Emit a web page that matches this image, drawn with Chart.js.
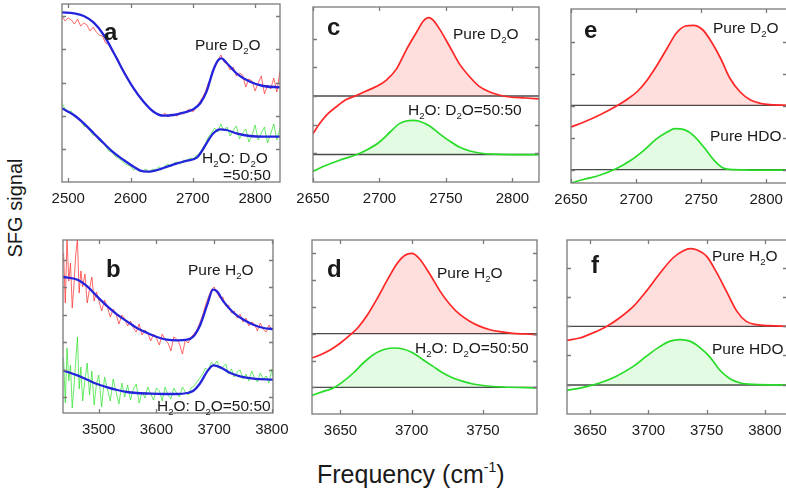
<!DOCTYPE html>
<html>
<head>
<meta charset="utf-8">
<script src="https://cdn.jsdelivr.net/npm/chart.js@4.4.1/dist/chart.umd.min.js"></script>
<style>
  html,body{margin:0;padding:0;background:#fff;}
  body{width:786px;height:497px;overflow:hidden;position:relative;font-family:"Liberation Sans",Arial,Helvetica,sans-serif;color:#1a1a1a;}
  #ylab{position:absolute;left:-45px;top:196px;width:120px;height:24px;line-height:24px;text-align:center;font-size:20px;transform:rotate(-90deg);white-space:nowrap;}
  #xlab{position:absolute;left:317px;top:462px;height:25px;line-height:25px;font-size:25px;white-space:nowrap;}
  #xlab span{font-size:14px;position:relative;top:-11px;}
</style>
</head>
<body>
<div id="ylab">SFG signal</div>
<div id="xlab">Frequency (cm<span>-1</span>)</div>
<script>
// ---------- Panel a (D2O region, raw spectra + fits) ----------
const aX = [2490,2495,2500,2505,2510,2515,2520,2525,2530,2535,2540,2545,2550,2555,2560,2565,2570,2575,2580,2585,2590,2595,2600,2605,2610,2615,2620,2625,2630,2635,2640,2645,2650,2655,2660,2665,2670,2675,2680,2685,2690,2695,2700,2705,2710,2715,2720,2725,2730,2735,2740,2745,2750,2755,2760,2765,2770,2775,2780,2785,2790,2795,2800,2805,2810,2815,2820,2825,2830,2835,2840];
const aRed = [16.6,16.1,16.4,16.2,15.8,16.3,15.6,15.9,15.7,15.1,15.5,15.0,14.7,14.6,13.9,13.8,13.1,12.7,12.3,11.4,11.0,10.5,9.9,9.4,8.9,8.6,8.1,7.8,7.4,7.2,6.9,6.8,6.6,6.9,6.5,6.8,6.7,6.6,7.0,6.8,7.1,7.3,7.0,7.4,7.9,8.4,9.0,9.9,10.6,11.6,12.1,12.7,12.0,11.8,11.2,11.5,10.6,10.9,10.7,9.5,10.3,10.1,9.1,9.9,10.6,8.8,9.7,9.3,10.4,9.0,11.1];
const aGreen = [7.9,7.3,7.0,7.1,6.5,6.4,6.1,5.6,5.5,5.1,4.7,4.6,4.1,3.9,3.6,3.1,3.0,2.6,2.4,2.2,1.9,1.7,1.6,1.2,1.4,1.0,1.1,1.3,0.9,1.3,1.2,1.5,1.3,1.6,1.8,1.5,1.9,2.0,1.8,2.2,2.1,2.4,2.3,2.6,2.8,3.3,3.8,4.5,4.9,5.4,5.0,5.8,5.1,5.5,4.6,5.2,5.6,4.3,4.9,5.3,4.0,4.6,5.7,4.2,4.9,5.5,3.9,4.8,5.8,4.2,5.4];
const aFitX1 = [2490,2509,2525,2541,2557,2573,2589,2605,2621,2637,2653,2669,2685,2701,2712,2722,2733,2741,2746,2754,2770,2792,2813,2840];
const aFit1  = [16.97,16.87,16.6,15.93,14.7,12.93,11.03,9.37,8.03,7.03,6.63,6.7,6.93,7.27,7.87,9.03,11.2,12.2,12.37,11.93,10.87,10.03,9.6,9.47];
const aFitX2 = [2490,2509,2525,2541,2557,2573,2589,2605,2616,2627,2643,2659,2675,2691,2707,2714,2722,2733,2744,2754,2770,2792,2813,2840];
const aFit2  = [7.37,6.7,5.87,4.87,3.87,2.93,2.2,1.53,1.13,1.03,1.2,1.53,1.87,2.13,2.47,3.03,3.87,4.87,5.27,5.2,4.87,4.6,4.53,4.53];
const aTicks = [2500,2600,2700,2800];
const aYTicks = [3.27,6.6,9.93,13.27,16.6];

// ---------- Panel b (H2O region, raw spectra + fits) ----------
const bX = [3439,3442,3445,3448,3451,3454,3457,3460,3463,3466,3469,3472,3476,3480,3484,3488,3492,3496,3500,
  3505,3510,3515,3520,3525,3530,3535,3540,3545,3550,3555,3560,3565,3570,3575,3580,3585,3590,3595,3600,
  3605,3610,3615,3620,3625,3630,3635,3640,3645,3650,3655,3660,3665,3670,3675,3680,3685,3690,3695,3700,
  3705,3710,3715,3720,3725,3730,3735,3740,3745,3750,3755,3760,3765,3770,3775,3780,3785,3790,3795,3800,3802];
const bRed = [16.0,11.0,17.5,13.2,15.0,10.5,12.8,15.8,17.4,12.0,14.2,12.6,13.9,11.0,12.4,13.6,11.2,12.1,11.3,
  10.2,11.3,10.6,9.6,10.4,9.9,8.9,9.8,9.4,8.7,9.2,8.5,8.1,8.9,7.8,8.3,8.0,7.2,7.9,7.5,
  6.8,7.9,7.3,7.0,6.2,7.6,7.4,6.9,5.9,7.3,7.0,7.6,7.9,8.3,9.0,9.8,10.8,11.6,12.3,12.6,
  12.0,11.5,11.6,10.7,10.8,10.0,10.2,9.5,9.9,9.1,9.5,8.7,9.1,8.9,8.2,9.0,8.4,8.1,8.8,8.3,8.5];
const bGreen = [5.5,1.0,6.5,3.2,4.8,0.5,2.6,5.2,7.6,2.4,4.6,1.2,3.3,5.0,1.8,4.2,0.8,2.9,3.8,
  0.6,3.6,2.4,1.2,3.4,2.1,0.9,3.0,1.6,2.8,1.3,2.4,2.9,1.0,2.1,1.5,2.6,1.9,1.3,2.5,
  2.2,1.2,2.6,1.8,1.4,2.5,2.0,1.6,2.6,2.1,1.8,2.5,2.7,3.1,3.5,3.9,4.5,4.3,5.1,4.8,
  5.2,4.4,4.6,4.9,3.9,4.4,3.6,4.1,4.3,3.4,3.9,3.2,4.2,3.5,3.1,4.0,3.4,3.7,3.0,4.4,3.6];
const bFitX1 = [3438,3463,3480,3497,3515,3532,3549,3566,3584,3601,3618,3636,3653,3664,3676,3688,3698,3705,3716,3734,3751,3768,3786,3802];
const bFit1  = [13.6,13.33,12.66,11.66,10.66,9.83,9.16,8.5,8.0,7.6,7.33,7.26,7.33,7.66,8.83,10.83,12.33,12.16,11.16,10.0,9.33,8.83,8.5,8.4];
const bFitX2 = [3438,3463,3480,3497,3515,3532,3549,3566,3590,3613,3636,3653,3664,3676,3688,3699,3711,3728,3745,3768,3802];
const bFit2  = [4.26,3.76,3.33,2.9,2.56,2.3,2.1,2.0,1.93,1.9,1.9,2.0,2.23,3.0,4.16,4.76,4.56,4.0,3.66,3.43,3.33];
const bTicks = [3500,3600,3700,3800];
const bYTicks = [1.56,4.33,7.1,9.83,12.6,15.33];

// ---------- Panel c (Im chi, D2O vs 50:50) ----------
const cX1 = [2650,2655,2660,2668,2675,2683,2690,2698,2705,2713,2720,2728,2733,2737,2740,2745,2753,2760,2768,2775,2783,2790,2798,2810,2820];
const cRed = [4.84,5.84,6.67,7.57,8.24,8.67,9.1,9.57,10.17,11.34,13.17,15.0,16.1,16.44,16.24,15.34,13.5,11.84,10.5,9.57,9.0,8.7,8.5,8.4,8.3];
const cX2 = [2650,2660,2670,2683,2690,2700,2708,2715,2720,2725,2730,2738,2745,2753,2760,2768,2775,2785,2798,2820];
const cGreen = [1.07,1.67,2.17,2.75,3.17,4.0,5.0,5.84,6.1,6.17,6.07,5.57,4.84,4.07,3.5,3.1,2.9,2.78,2.74,2.74];
const cBase = [8.6, 2.75];
const cTicks = [2650,2700,2750,2800];
const cYTicks = [2.87,5.74,8.6,11.48,14.35];

// ---------- Panel d (Im chi, H2O vs 50:50) ----------
const dX1 = [3630,3636,3643,3650,3657,3662,3669,3676,3683,3690,3695,3700,3705,3713,3720,3727,3734,3741,3748,3755,3762,3771,3781,3788];
const dRed = [5.6,5.93,6.43,7.1,7.93,8.6,9.93,11.6,13.43,15.1,15.85,16.06,15.6,13.93,12.26,10.93,9.93,9.26,8.76,8.43,8.23,8.06,8.0,7.93];
const dX2 = [3630,3638,3645,3652,3659,3666,3673,3680,3687,3694,3701,3708,3715,3722,3729,3736,3743,3753,3764,3788];
const dGreen = [1.86,2.26,2.6,3.26,4.1,5.1,5.93,6.43,6.6,6.5,6.1,5.43,4.76,4.1,3.6,3.26,3.0,2.8,2.7,2.6];
const dBase = [8.03, 2.66];
const dTicks = [3650,3700,3750];
const dYTicks = [2.66,5.34,8.03,10.7,13.4,16.1];

// ---------- Panel e (Im chi, D2O vs HDO) ----------
const eX1 = [2650,2660,2672,2685,2693,2701,2708,2716,2724,2731,2738,2744,2751,2757,2765,2772,2780,2788,2796,2803,2816];
const eRed = [5.6,6.1,6.8,7.7,8.35,9.15,10.2,11.75,13.5,15.0,15.7,15.77,15.35,14.3,12.45,10.5,9.1,8.3,7.95,7.83,7.77];
const eX2 = [2650,2660,2672,2685,2696,2706,2716,2724,2730,2737,2744,2752,2760,2767,2775,2816];
const eGreen = [0.0,0.37,0.77,1.44,2.27,3.27,4.44,5.1,5.44,5.34,4.77,3.6,2.27,1.5,1.34,1.28];
const eBase = [7.77, 1.34];
const eTicks = [2650,2700,2750,2800];
const eYTicks = [1.34,4.54,7.74,10.94,14.14];

// ---------- Panel f (Im chi, H2O vs HDO) ----------
const fX1 = [3630,3641,3652,3664,3675,3687,3698,3710,3721,3730,3736,3741,3750,3758,3767,3776,3784,3793,3804,3819];
const fRed = [7.36,7.6,8.1,8.76,9.6,10.76,12.26,14.1,15.6,16.33,16.53,16.43,15.76,14.26,12.26,10.26,9.26,8.93,8.83,8.76];
const fX2 = [3630,3644,3658,3672,3687,3698,3710,3718,3727,3736,3744,3753,3761,3770,3779,3790,3819];
const fGreen = [2.36,2.66,3.1,3.76,4.76,5.76,6.76,7.26,7.43,7.26,6.66,5.66,4.43,3.53,3.1,2.96,2.9];
const fBase = [8.76, 2.9];
const fTicks = [3650,3700,3750,3800];
const fYTicks = [2.93,5.86,8.76,11.7,14.6];

// ---------- styling / helpers ----------
const FONT = '"Liberation Sans", Arial, Helvetica, sans-serif';
const RED_N = 'rgba(255,45,45,0.8)';
const GREEN_N = 'rgba(45,225,45,0.8)';
const BLUE = '#2424dc';
const RED = '#ff2626';
const GREEN = '#27dc27';
const RED_FILL = 'rgba(255,0,0,0.13)';
const GREEN_FILL = 'rgba(0,205,0,0.11)';
const BASE_COL = '#4a4a4a';
const FRAME_COL = '#7a7a7a';

function pts(xs, ys){ const n = Math.min(xs.length, ys.length); const o=[]; for(let i=0;i<n;i++) o.push({x:xs[i], y:ys[i]}); return o; }
function noisy(xs, ys, col){ return {data:pts(xs,ys), borderColor:col, borderWidth:0.9, pointRadius:0, tension:0, fill:false}; }
function fit(xs, ys){ return {data:pts(xs,ys), borderColor:BLUE, borderWidth:2.3, pointRadius:0, cubicInterpolationMode:'monotone', fill:false}; }
function peak(xs, ys, col, fcol, base){ return {data:pts(xs,ys), borderColor:col, borderWidth:1.7, pointRadius:0, cubicInterpolationMode:'monotone', fill:{target:{value:base}, above:fcol, below:'rgba(0,0,0,0)'}}; }
function hline(v, xr){ return {data:[{x:xr[0], y:v},{x:xr[1], y:v}], borderColor:BASE_COL, borderWidth:1.3, pointRadius:0, fill:false}; }

function drawRich(ctx, s, x, y, size, bold){
  let cx = x;
  for (let i=0;i<s.length;i++){
    let ch = s[i], sz = size, dy = 0;
    if (ch === '_'){ ch = s[++i]; sz = size*0.62; dy = size*0.27; }
    ctx.font = (bold ? 'bold ' : '') + sz + 'px ' + FONT;
    ctx.fillText(ch, cx, y + dy);
    cx += ctx.measureText(ch).width;
  }
}

const PANELS = [
  {box:[62,4,280,182], xr:[2490,2840], xt:aTicks, yt:aYTicks,
   ds:[fit(aFitX1,aFit1), fit(aFitX2,aFit2), noisy(aX,aRed,RED_N), noisy(aX,aGreen,GREEN_N)],
   texts:[{s:'a',x:104,y:39.5,b:1},{s:'Pure D_2O',x:195,y:50},{s:'H_2O: D_2O',x:202,y:163},{s:'=50:50',x:223,y:180}]},
  {box:[63,240,273,413], xr:[3438,3802], xt:bTicks, yt:bYTicks,
   ds:[fit(bFitX1,bFit1), fit(bFitX2,bFit2), noisy(bX,bRed,RED_N), noisy(bX,bGreen,GREEN_N)],
   texts:[{s:'b',x:106,y:277,b:1},{s:'Pure H_2O',x:188,y:275},{s:'H_2O: D_2O=50:50',x:157,y:411}]},
  {box:[313,7,539,182], xr:[2650,2820], xt:cTicks, yt:cYTicks,
   ds:[peak(cX1,cRed,RED,RED_FILL,cBase[0]), peak(cX2,cGreen,GREEN,GREEN_FILL,cBase[1]), hline(cBase[0],[2650,2820]), hline(cBase[1],[2650,2820])],
   texts:[{s:'c',x:327,y:35,b:1},{s:'Pure D_2O',x:453,y:39},{s:'H_2O: D_2O=50:50',x:408,y:115}]},
  {box:[312,240,537,414], xr:[3630,3788], xt:dTicks, yt:dYTicks,
   ds:[peak(dX1,dRed,RED,RED_FILL,dBase[0]), peak(dX2,dGreen,GREEN,GREEN_FILL,dBase[1]), hline(dBase[0],[3630,3788]), hline(dBase[1],[3630,3788])],
   texts:[{s:'d',x:327,y:277,b:1},{s:'Pure H_2O',x:437,y:278},{s:'H_2O: D_2O=50:50',x:415,y:353}]},
  {box:[571,9,787,183], xr:[2650,2816], xt:eTicks, yt:eYTicks,
   ds:[peak(eX1,eRed,RED,RED_FILL,eBase[0]), peak(eX2,eGreen,GREEN,GREEN_FILL,eBase[1]), hline(eBase[0],[2650,2816]), hline(eBase[1],[2650,2816])],
   texts:[{s:'e',x:584,y:38,b:1},{s:'Pure D_2O',x:713,y:33},{s:'Pure HDO',x:710,y:141}]},
  {box:[567,240,787,414], xr:[3630,3819], xt:fTicks, yt:fYTicks,
   ds:[peak(fX1,fRed,RED,RED_FILL,fBase[0]), peak(fX2,fGreen,GREEN,GREEN_FILL,fBase[1]), hline(fBase[0],[3630,3819]), hline(fBase[1],[3630,3819])],
   texts:[{s:'f',x:591,y:273,b:1},{s:'Pure H_2O',x:712,y:261},{s:'Pure HDO',x:712,y:354}]}
];

const PL = 30, PR = 30, PT = 10, AXH = 30;

PANELS.forEach(P => {
  const [l,t,r,b] = P.box;
  const W = r - l + PL + PR, H = b - t + PT + AXH;
  const cl = l - PL, ct = t - PT;
  const cv = document.createElement('canvas');
  cv.width = W; cv.height = H;
  cv.style.cssText = 'position:absolute;left:' + cl + 'px;top:' + ct + 'px;width:' + W + 'px;height:' + H + 'px;';
  document.body.appendChild(cv);
  const frame = {
    id: 'frame',
    afterDatasetsDraw(chart){
      const ctx = chart.ctx, ca = chart.chartArea, xs = chart.scales.x, ys = chart.scales.y;
      ctx.save();
      ctx.strokeStyle = FRAME_COL; ctx.lineWidth = 1.3;
      ctx.strokeRect(ca.left, ca.top, ca.right - ca.left, ca.bottom - ca.top);
      ctx.beginPath();
      P.xt.forEach(v => { const px = Math.round(xs.getPixelForValue(v)) + 0.5;
        ctx.moveTo(px, ca.bottom); ctx.lineTo(px, ca.bottom - 4);
        ctx.moveTo(px, ca.top); ctx.lineTo(px, ca.top + 4); });
      P.yt.forEach(v => { const py = Math.round(ys.getPixelForValue(v)) + 0.5;
        ctx.moveTo(ca.left, py); ctx.lineTo(ca.left + 4, py);
        ctx.moveTo(ca.right, py); ctx.lineTo(ca.right - 4, py); });
      ctx.stroke();
      ctx.fillStyle = '#1a1a1a'; ctx.textBaseline = 'alphabetic'; ctx.textAlign = 'left';
      P.texts.forEach(T => drawRich(ctx, T.s, T.x - cl, T.y - ct, T.b ? 24 : 15.5, !!T.b));
      ctx.restore();
    }
  };
  new Chart(cv, {
    type: 'line',
    data: {datasets: P.ds},
    options: {
      responsive: false, animation: false, events: [],
      layout: {padding: {left: PL, right: PR, top: PT, bottom: 0}},
      plugins: {legend: {display: false}, tooltip: {enabled: false}},
      elements: {point: {radius: 0}},
      scales: {
        x: {type: 'linear', min: P.xr[0], max: P.xr[1],
            grid: {display: false, drawTicks: false}, border: {display: false},
            ticks: {autoSkip: false, maxRotation: 0, padding: 8, color: '#1a1a1a', font: {family: FONT, size: 15}, callback: v => String(v)},
            afterBuildTicks: s => { s.ticks = P.xt.map(v => ({value: v})); },
            afterFit: s => { s.height = AXH; }},
        y: {type: 'linear', display: false, min: 0, max: (b - t) / 10}
      }
    },
    plugins: [frame]
  });
});
</script>
</body>
</html>
